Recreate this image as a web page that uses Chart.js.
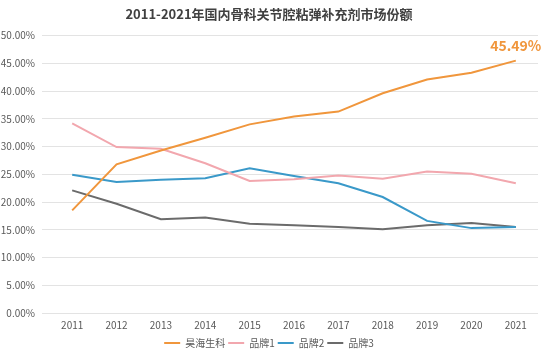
<!DOCTYPE html>
<html>
<head>
<meta charset="utf-8">
<script src="https://cdn.jsdelivr.net/npm/chart.js@4/dist/chart.umd.min.js"></script>
<style>
  html, body { margin: 0; padding: 0; background: #fff; }
  #wrap { width: 549px; height: 353px; }
</style>
</head>
<body>
<div id="wrap"><canvas id="line-chart"></canvas></div>
<script>
var years = ['2011', '2012', '2013', '2014', '2015', '2016', '2017', '2018', '2019', '2020', '2021'];
var haohai = [18.5, 26.8, 29.3, 31.6, 34.0, 35.4, 36.3, 39.6, 42.1, 43.3, 45.49];
var brand1 = [34.2, 29.9, 29.6, 27.0, 23.8, 24.1, 24.8, 24.2, 25.5, 25.1, 23.4];
var brand2 = [24.9, 23.6, 24.0, 24.3, 26.1, 24.7, 23.4, 20.9, 16.6, 15.3, 15.5];
var brand3 = [22.1, 19.7, 16.9, 17.2, 16.1, 15.8, 15.5, 15.1, 15.8, 16.2, 15.5];

var fontFamily = '"Noto Sans CJK SC", "Open Sans", sans-serif';

// label on the last orange point
var lastLabel = {
  id: 'lastLabel',
  afterDatasetsDraw: function(chart) {
    var meta = chart.getDatasetMeta(0);
    var pt = meta.data[meta.data.length - 1];
    var ctx = chart.ctx;
    ctx.save();
    ctx.font = 'bold 14px ' + fontFamily;
    ctx.fillStyle = '#F0963C';
    ctx.textAlign = 'center';
    ctx.textBaseline = 'bottom';
    ctx.fillText(haohai[haohai.length - 1].toFixed(2) + '%', pt.x, pt.y - 8);
    ctx.restore();
  }
};

function line(label, data, color) {
  return {
    label: label,
    data: data,
    borderColor: color,
    backgroundColor: color,
    borderWidth: 2,
    pointRadius: 0,
    tension: 0
  };
}

var myChart = new Chart(document.getElementById('line-chart'), {
  type: 'line',
  data: {
    labels: years,
    datasets: [
      line('昊海生科', haohai, '#F0963C'),
      line('品牌1', brand1, '#F2A7AE'),
      line('品牌2', brand2, '#3A99C9'),
      line('品牌3', brand3, '#6B6B6B')
    ]
  },
  options: {
    responsive: true,
    maintainAspectRatio: false,
    animation: false,
    layout: { padding: { left: 0, right: 11, top: 4, bottom: 0 } },
    plugins: {
      title: {
        display: true,
        text: '2011-2021年国内骨科关节腔粘弹补充剂市场份额',
        color: '#404040',
        font: { family: fontFamily, size: 13, weight: 'bold' },
        padding: { top: 2, bottom: 14 }
      },
      legend: {
        position: 'bottom',
        maxHeight: 18,
        labels: {
          usePointStyle: true,
          pointStyle: 'line',
          pointStyleWidth: 16,
          boxHeight: 2,
          padding: 3,
          color: '#595959',
          font: { family: fontFamily, size: 10 }
        }
      },
      tooltip: { enabled: false }
    },
    scales: {
      x: {
        offset: true,
        afterFit: function(scale) { scale.height = 22; },
        grid: { display: false, drawTicks: false },
        border: { display: false },
        ticks: { color: '#595959', font: { family: fontFamily, size: 10 }, padding: 6 }
      },
      y: {
        min: 0,
        max: 50,
        afterFit: function(scale) { scale.width = 50; },
        grid: { color: '#E3E3E3', lineWidth: 1 },
        border: { display: false },
        ticks: {
          stepSize: 5,
          padding: 7,
          color: '#595959',
          font: { family: fontFamily, size: 10 },
          callback: function(v) { return v.toFixed(2) + '%'; }
        }
      }
    }
  },
  plugins: [lastLabel]
});
</script>
</body>
</html>
